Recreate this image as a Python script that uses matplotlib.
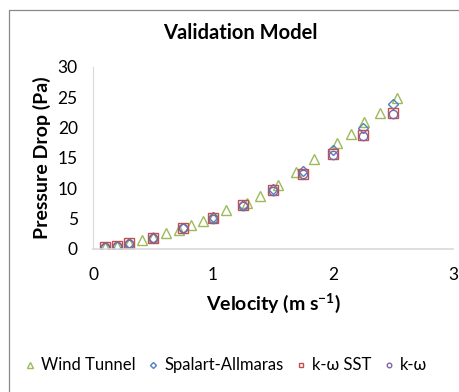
import matplotlib.pyplot as plt
from matplotlib.patches import Rectangle

plt.rcParams['font.family'] = ['Lato', 'DejaVu Sans']
plt.rcParams['mathtext.fontset'] = 'custom'
plt.rcParams['mathtext.rm'] = 'Lato'
plt.rcParams['mathtext.bf'] = 'Lato:bold'

# Datos del túnel de viento
vel_tunel = [0.1, 0.2, 0.3, 0.41, 0.5, 0.61, 0.72, 0.82, 0.92, 1.0, 1.11, 1.28,
             1.39, 1.54, 1.69, 1.84, 2.03, 2.15, 2.26, 2.39, 2.53]
dp_tunel = [0.3, 0.55, 1.0, 1.5, 1.9, 2.6, 3.1, 3.9, 4.65, 5.2, 6.4, 7.6,
            8.8, 10.6, 12.7, 14.75, 17.5, 19.0, 20.9, 22.3, 24.9]

# Datos de los modelos de turbulencia
vel_modelo = [0.1, 0.2, 0.3, 0.5, 0.75, 1.0, 1.25, 1.5, 1.75, 2.0, 2.25, 2.5]
dp_sa = [0.3, 0.5, 0.95, 1.8, 3.5, 5.2, 7.3, 9.9, 12.9, 16.3, 19.9, 23.8]
dp_sst = [0.28, 0.5, 0.93, 1.76, 3.45, 5.1, 7.2, 9.7, 12.4, 15.6, 18.7, 22.3]
dp_kw = [0.28, 0.5, 0.9, 1.75, 3.4, 5.0, 7.1, 9.6, 12.3, 15.4, 18.6, 22.2]

fig = plt.figure(figsize=(4.6, 3.92), dpi=100)
ax = fig.add_axes([0.2022, 0.3648, 0.7826, 0.4651])

# marco del área del gráfico
fig.patches.append(Rectangle((9 / 460, -0.2), 1.2, 1.2 - 10 / 392,
                             transform=fig.transFigure, fill=False,
                             edgecolor='#888888', linewidth=0.9))

ms = 7
ax.plot(vel_tunel, dp_tunel, linestyle='none', marker='^', ms=ms, mfc='none',
        mec='#9BBB59', mew=1.0, label='Wind Tunnel')
ax.plot(vel_modelo, dp_sa, linestyle='none', marker='D', ms=ms - 1.5, mfc='none',
        mec='#4F81BD', mew=1.0, label='Spalart-Allmaras')
ax.plot(vel_modelo, dp_sst, linestyle='none', marker='s', ms=ms - 0.5, mfc='none',
        mec='#C0504D', mew=1.0, label='k-ω SST')
ax.plot(vel_modelo, dp_kw, linestyle='none', marker='o', ms=ms - 1, mfc='none',
        mec='#8064A2', mew=1.0, label='k-ω')

ax.set_xlim(0, 3)
ax.set_ylim(0, 30)
ax.set_xticks([0, 1, 2, 3])
ax.set_yticks([0, 5, 10, 15, 20, 25, 30])
ax.tick_params(axis='y', length=0, labelsize=12.5, pad=11)
ax.tick_params(axis='x', length=0, labelsize=12.5, pad=13)
for s in ['top', 'right']:
    ax.spines[s].set_visible(False)
ax.spines['left'].set_color('#D9D9D9')
ax.spines['bottom'].set_color('#D9D9D9')
ax.spines['bottom'].set_linewidth(1.2)

fig.text(0.522, 0.915, 'Validation Model', ha='center', va='center',
         fontsize=14.5, fontweight='bold')
ax.set_xlabel('Velocity (m s$^{\\mathbf{-1}}$)', fontsize=14, fontweight='bold', labelpad=6)
ax.set_ylabel('Pressure Drop (Pa)', fontsize=14, fontweight='bold', labelpad=5)

leg = fig.legend(loc='center left', bbox_to_anchor=(0.03, 0.068), ncol=4,
                 frameon=False, fontsize=12, markerscale=0.55, handlelength=0.6,
                 handletextpad=0.35, columnspacing=0.75, borderpad=0.2)

fig.savefig('out.png', dpi=100)
